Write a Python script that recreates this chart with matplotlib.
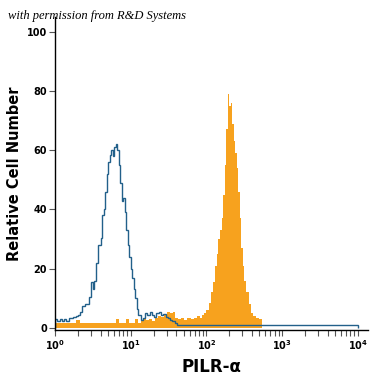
import numpy as np
import matplotlib
matplotlib.use("Agg")
import matplotlib.pyplot as plt
from matplotlib.ticker import LogLocator, FixedLocator, NullFormatter

# isotype control (outline), log10 bin edges and counts
iso_log_edges = [0.00, 0.03, 0.06, 0.09, 0.12, 0.15, 0.18, 0.21, 0.24, 0.27,
                 0.30, 0.33, 0.36, 0.39, 0.42, 0.45, 0.48, 0.50, 0.52, 0.54,
                 0.57, 0.60, 0.62, 0.64, 0.66, 0.68, 0.70, 0.72, 0.74, 0.76,
                 0.78, 0.80, 0.82, 0.84, 0.86, 0.88, 0.90, 0.92, 0.94, 0.96,
                 0.98, 1.00, 1.02, 1.04, 1.06, 1.08, 1.10, 1.13, 1.16, 1.19,
                 1.22, 1.25, 1.28, 1.31, 1.34, 1.37, 1.40, 1.43, 1.46, 1.49,
                 1.52, 1.55, 1.58, 1.61, 4.00]
iso_counts = [3.0, 2.5, 3.0, 2.3, 3.0, 2.5, 3.2, 3.5, 3.8, 4.0,
              4.3, 5.3, 7.5, 8.0, 8.2, 10.5, 15.5, 13.0, 16.0, 22.0,
              28.0, 30.5, 38.0, 40.0, 46.0, 52.0, 56.0, 58.5, 60.0, 58.0,
              61.0, 62.0, 60.0, 55.0, 49.0, 43.0, 44.0, 39.0, 33.0, 28.0,
              24.0, 20.0, 17.0, 13.0, 10.0, 6.5, 4.5, 2.8, 3.5, 5.2,
              4.2, 5.3, 4.5, 3.8, 5.0, 5.3, 4.3, 4.8, 3.8, 3.3,
              2.8, 2.3, 1.8, 1.0]

# PILR-alpha antibody (filled)
pilr_log_edges = [0.00, 0.28, 0.33, 0.80, 0.84, 0.94, 0.98, 1.05, 1.09, 1.13,
                  1.16, 1.20, 1.24, 1.28, 1.32, 1.36, 1.40, 1.44, 1.48, 1.52,
                  1.56, 1.59, 1.63, 1.67, 1.71, 1.75, 1.79, 1.83, 1.87, 1.91,
                  1.94, 1.97, 2.00, 2.03, 2.06, 2.09, 2.12, 2.14, 2.16, 2.18,
                  2.20, 2.22, 2.24, 2.26, 2.28, 2.30, 2.32, 2.34, 2.36, 2.38,
                  2.40, 2.42, 2.44, 2.46, 2.48, 2.50, 2.53, 2.56, 2.59, 2.62,
                  2.66, 2.70, 2.73]
pilr_counts = [1.5, 2.8, 1.5, 3.0, 1.5, 3.0, 1.5, 3.0, 1.8, 2.5,
               3.5, 2.8, 3.0, 2.5, 3.5, 4.0, 3.8, 4.3, 5.5, 5.0,
               5.5, 3.5, 3.0, 3.3, 2.8, 3.5, 3.0, 3.2, 4.0, 3.5,
               4.5, 5.0, 6.0, 8.5, 12.0, 15.5, 21.0, 25.0, 30.0, 33.0,
               37.0, 45.0, 55.0, 67.0, 79.0, 75.0, 76.0, 69.0, 63.0, 59.0,
               54.0, 46.0, 37.0, 27.0, 21.0, 16.0, 12.0, 8.0, 5.0, 4.0,
               3.5, 3.0]

y_ticks = [0, 20, 40, 60, 80, 100]
x_ticks = [1, 10, 100, 1000, 10000]
x_labels = [r"$\mathbf{10^0}$", r"$\mathbf{10^1}$", r"$\mathbf{10^2}$",
            r"$\mathbf{10^3}$", r"$\mathbf{10^4}$"]

fig = plt.figure(figsize=(3.75, 3.75), dpi=100)
ax = fig.add_axes([0.147, 0.12, 0.834, 0.835])

ax.stairs(pilr_counts, 10 ** np.array(pilr_log_edges), fill=True,
          color="#f7a21e", linewidth=0)
ax.stairs(iso_counts, 10 ** np.array(iso_log_edges), fill=False,
          color="#22608a", linewidth=1.0)

ax.set_xscale("log")
ax.set_xlim(1, 10 ** 4.135)
ax.set_ylim(-0.7, 105)

ax.xaxis.set_major_locator(FixedLocator(x_ticks))
ax.set_xticklabels(x_labels)
ax.xaxis.set_minor_locator(LogLocator(base=10, subs=np.arange(2, 10), numticks=20))
ax.xaxis.set_minor_formatter(NullFormatter())
ax.set_yticks(y_ticks)

for s in ["top", "right"]:
    ax.spines[s].set_visible(False)
for s in ["left", "bottom"]:
    ax.spines[s].set_color("black")
    ax.spines[s].set_linewidth(1.0)

ax.tick_params(axis="both", which="major", length=4, width=0.8, color="#555555",
               labelsize=7, pad=2)
ax.tick_params(axis="x", which="minor", length=4, width=0.8, color="#555555")
for lab in ax.get_yticklabels() + ax.get_xticklabels():
    lab.set_fontweight("bold")

ax.set_xlabel("PILR-α", fontsize=12, fontweight="bold", labelpad=4)
ax.set_ylabel("Relative Cell Number", fontsize=10.5, fontweight="bold", labelpad=3)

fig.text(0.022, 0.958, "with permission from R&D Systems", fontsize=9,
         fontstyle="italic", family="Liberation Serif", va="center", ha="left")

fig.savefig("out.png", dpi=100)
